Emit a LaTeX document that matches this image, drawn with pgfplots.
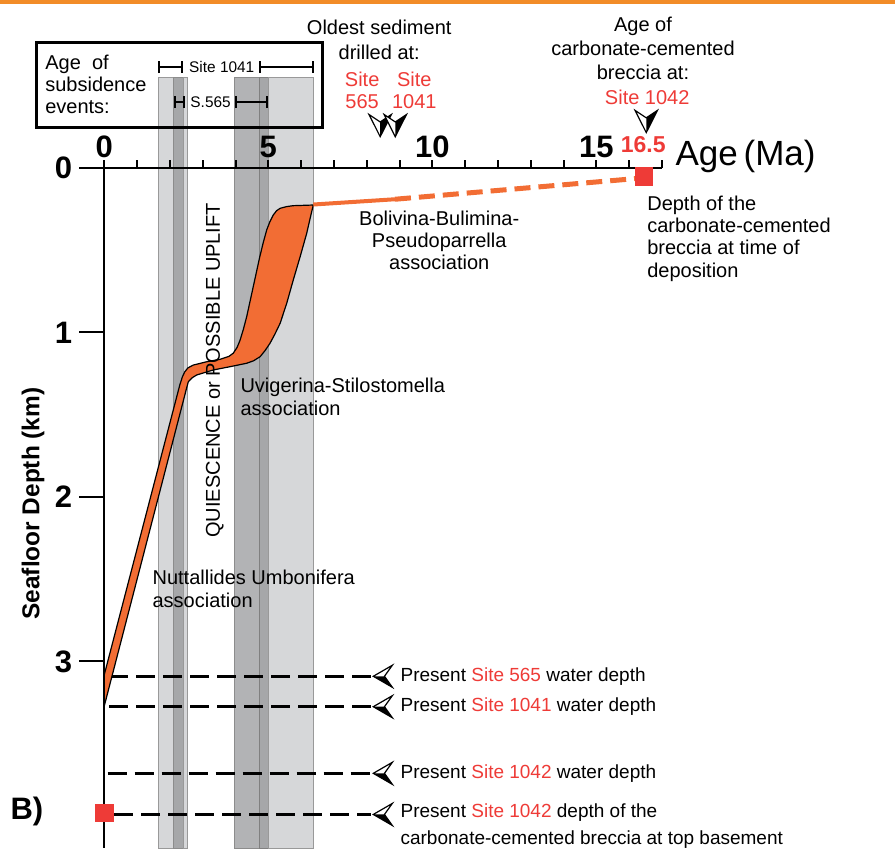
\documentclass[border=0pt]{standalone}
\usepackage{pgfplots}
\pgfplotsset{compat=1.18}
\usepackage{fontspec}
\setmainfont{Liberation Sans}
\usetikzlibrary{arrows.meta}
\definecolor{myorange}{HTML}{F26D34}
\definecolor{topor}{HTML}{F28C28}
\definecolor{myred}{HTML}{EE3B37}
\definecolor{lgray}{HTML}{D6D7D9}
\definecolor{dgray}{HTML}{B2B3B5}
\definecolor{ddgray}{HTML}{A6A7A9}
\newcommand\fs[2]{\fontsize{#1}{#2}\selectfont}
% left-pointing arrowhead (tip x, depth)
\newcommand\larrow[2]{%
  \filldraw[fill=white, line width=0.6pt, line join=miter] (axis cs:#1,#2) -- (axis cs:#1+0.58,#2-0.067) -- (axis cs:#1+0.34,#2) -- (axis cs:#1+0.58,#2+0.067) -- cycle;
  \fill (axis cs:#1,#2) -- (axis cs:#1+0.34,#2) -- (axis cs:#1+0.58,#2+0.067) -- cycle;}
% down-pointing arrowhead (tip x, tip depth)
\newcommand\darrow[2]{%
  \filldraw[fill=white, line width=0.6pt, line join=miter] (axis cs:#1,#2) -- (axis cs:#1-0.34,#2-0.135) -- (axis cs:#1,#2-0.09) -- (axis cs:#1+0.34,#2-0.135) -- cycle;
  \fill (axis cs:#1,#2) -- (axis cs:#1,#2-0.09) -- (axis cs:#1+0.34,#2-0.135) -- cycle;}
\begin{document}
\begin{tikzpicture}
\begin{axis}[
  at={(0,0)}, anchor=north west,
  scale only axis, width=278.85pt, height=340pt,
  xmin=0, xmax=17, ymin=0, ymax=4.134,
  y dir=reverse,
  axis x line*=top, axis y line*=left,
  axis line style={-, line width=1.2pt},
  tick align=outside,
  xtick={0,5,10,15},
  extra x ticks={1,2,3,4,6,7,8,9,11,12,13,14,16,17},
  extra x tick labels={},
  ytick=\empty,
  minor ytick={0.1,0.2,...,4.1},
  extra y ticks={0,1,2,3},
  extra y tick labels={0,1,2,3},
  extra y tick style={major tick length=12.5pt},
  major tick length=4pt, minor tick length=6pt,
  tick style={black, line width=1pt},
  ticklabel style={font=\bfseries\fs{15.5}{15.5}},
  xticklabel style={yshift=-2.5pt},
  /pgf/number format/assume math mode=true,
  clip=false,
  set layers,
]
% subsidence bands
\addplot[on layer=axis background, fill=lgray, draw=black!40, line width=0.5pt] coordinates {(1.64,-0.55) (2.12,-0.55) (2.12,4.134) (1.64,4.134)} -- cycle;
\addplot[on layer=axis background, fill=ddgray, draw=black!45, line width=0.5pt] coordinates {(2.12,-0.55) (2.40,-0.55) (2.40,4.134) (2.12,4.134)} -- cycle;
\addplot[on layer=axis background, fill=lgray, draw=black!40, line width=0.5pt] coordinates {(2.40,-0.55) (2.55,-0.55) (2.55,4.134) (2.40,4.134)} -- cycle;
\addplot[on layer=axis background, fill=dgray, draw=black!45, line width=0.5pt] coordinates {(3.98,-0.55) (4.72,-0.55) (4.72,4.134) (3.98,4.134)} -- cycle;
\addplot[on layer=axis background, fill=ddgray, draw=black!50, line width=0.5pt] coordinates {(4.72,-0.55) (4.99,-0.55) (4.99,4.134) (4.72,4.134)} -- cycle;
\addplot[on layer=axis background, fill=lgray, draw=black!40, line width=0.5pt] coordinates {(4.99,-0.55) (6.39,-0.55) (6.39,4.134) (4.99,4.134)} -- cycle;

% present-day depth lines
\addplot[black, line width=1.25pt, dash pattern=on 9.5pt off 4pt] coordinates {(0.15,3.09) (8.12,3.09)};
\addplot[black, line width=1.25pt, dash pattern=on 9.5pt off 4pt] coordinates {(0.15,3.275) (8.12,3.275)};
\addplot[black, line width=1.25pt, dash pattern=on 9.5pt off 4pt] coordinates {(0.1,3.68) (8.12,3.68)};
\addplot[black, line width=1.25pt, dash pattern=on 9.5pt off 4pt] coordinates {(0.3,3.93) (8.12,3.93)};

% subsidence curve envelope
\addplot[fill=myorange, draw=black, line width=0.6pt, line join=round] coordinates {
(0,3.08) (2.30,1.32) (2.38,1.27) (2.45,1.24) (2.55,1.215) (2.71,1.198) (3.12,1.178)
(3.53,1.163) (3.80,1.145) (3.93,1.126) (4.05,1.09) (4.14,1.046) (4.24,0.98) (4.34,0.904)
(4.54,0.722) (4.74,0.539) (4.85,0.45) (4.95,0.377) (5.05,0.325) (5.15,0.286) (5.25,0.26)
(5.36,0.245) (5.55,0.235) (5.76,0.229) (6.37,0.225)
(6.27,0.31) (6.17,0.397) (5.97,0.539) (5.76,0.681) (5.56,0.823) (5.36,0.944) (5.2,1.01)
(5.05,1.066) (4.9,1.11) (4.75,1.147) (4.55,1.172) (4.34,1.187) (3.83,1.208) (3.32,1.228)
(2.82,1.258) (2.68,1.275) (2.56,1.30) (2.50,1.345) (0,3.27)} -- cycle;
\addplot[myorange, line width=2pt] coordinates {(6.37,0.222) (8.86,0.19)};
\addplot[myorange, line width=2.5pt, dash pattern=on 8pt off 4pt] coordinates {(8.86,0.19) (16.45,0.06)};

% red squares
\addplot[only marks, mark=square*, mark size=4.4pt, mark options={fill=myred, draw=myred}] coordinates {(16.45,0.05) (0,3.92)};

% arrows and labels at right
\larrow{8.2}{3.09}
\larrow{8.2}{3.275}
\larrow{8.2}{3.68}
\larrow{8.2}{3.93}
\node[anchor=west, inner sep=0, font=\fs{9.5}{11.7}] at (axis cs:9.02,3.09) {Present \textcolor{myred}{Site 565} water depth};
\node[anchor=west, inner sep=0, font=\fs{9.5}{11.7}] at (axis cs:9.02,3.275) {Present \textcolor{myred}{Site 1041} water depth};
\node[anchor=west, inner sep=0, font=\fs{9.5}{11.7}] at (axis cs:9.02,3.68) {Present \textcolor{myred}{Site 1042} water depth};
\node[anchor=west, inner sep=0, align=left, font=\fs{9.5}{13.5}] at (axis cs:9.02,4.003) {Present \textcolor{myred}{Site 1042} depth of the\\carbonate-cemented breccia at top basement};

% box
\draw[line width=1.5pt] (axis cs:-2.08,-0.766) rectangle (axis cs:6.64,-0.249);
\node[anchor=west, inner sep=0, align=left, font=\fs{10}{11}] at (axis cs:-1.81,-0.51) {Age\ \ of\\subsidence\\events:};
\draw[line width=1pt, {Bar[width=6pt]}-{Bar[width=6pt]}] (axis cs:1.64,-0.614) -- (axis cs:2.40,-0.614);
\draw[line width=1pt, {Bar[width=6pt]}-{Bar[width=6pt]}] (axis cs:4.72,-0.614) -- (axis cs:6.39,-0.614);
\node[inner sep=0, font=\fs{7.7}{9}] at (axis cs:3.58,-0.614) {Site\ 1041};
\draw[line width=1pt, {Bar[width=6pt]}-{Bar[width=6pt]}] (axis cs:2.12,-0.40) -- (axis cs:2.47,-0.40);
\draw[line width=1pt, {Bar[width=6pt]}-{Bar[width=6pt]}] (axis cs:3.98,-0.40) -- (axis cs:4.99,-0.40);
\node[inner sep=0, font=\fs{7.7}{9}] at (axis cs:3.24,-0.40) {S.565};

% top annotations
\node[inner sep=0, align=center, font=\fs{10}{12.5}] at (axis cs:8.38,-0.781) {Oldest sediment\\drilled at:};
\node[inner sep=0, align=center, font=\fs{10}{11}, text=myred] at (axis cs:7.86,-0.474) {Site\\565};
\node[inner sep=0, align=center, font=\fs{10}{11}, text=myred] at (axis cs:9.45,-0.474) {Site\\1041};
\darrow{8.41}{-0.19}
\darrow{8.87}{-0.19}
\node[inner sep=0, align=center, font=\fs{10}{12}] at (axis cs:16.42,-0.73) {Age of\\carbonate-cemented\\breccia at:};
\node[inner sep=0, font=\fs{10}{11}, text=myred] at (axis cs:16.55,-0.43) {Site 1042};
\darrow{16.52}{-0.215}
\node[anchor=base, inner sep=0, text=myred, font=\bfseries\fs{11.5}{12}] at (axis cs:16.43,0) [yshift=8pt] {16.5};
\node[anchor=base west, inner sep=0, font=\fs{17.5}{18}] at (axis cs:17.4,0) [yshift=1.5pt] {Age\,(Ma)};

% in-plot labels
\node[inner sep=0, align=center, font=\fs{10}{11}] at (axis cs:10.21,0.44) {Bolivina-Bulimina-\\Pseudoparrella\\association};
\node[anchor=west, inner sep=0, align=left, font=\fs{10}{11.5}] at (axis cs:4.14,1.39) {Uvigerina-Stilostomella\\association};
\node[anchor=west, inner sep=0, align=left, font=\fs{10}{11.5}] at (axis cs:1.46,2.56) {Nuttallides Umbonifera\\association};
\node[anchor=west, inner sep=0, align=left, font=\fs{10}{11.2}] at (axis cs:16.54,0.4286) {Depth of the\\carbonate-cemented\\breccia at time of\\deposition};
\node[rotate=90, inner sep=0, font=\fs{10}{12}] at (axis cs:3.37,1.23) {QUIESCENCE or POSSIBLE UPLIFT};
\node[rotate=90, inner sep=0, font=\bfseries\fs{12.2}{14}] at (axis cs:-2.17,2.04) {Seafloor Depth (km)};
\node[anchor=west, inner sep=0, font=\bfseries\fs{15.5}{16}] at (axis cs:-2.87,3.91) {B)};
\draw[topor, line width=2pt] (axis cs:-3.3,-1.009) -- (axis cs:24.3,-1.009);
\end{axis}
\pgfresetboundingbox
\useasboundingbox (-52.15pt,84pt) rectangle (395.35pt,-342pt);
\end{tikzpicture}
\end{document}
